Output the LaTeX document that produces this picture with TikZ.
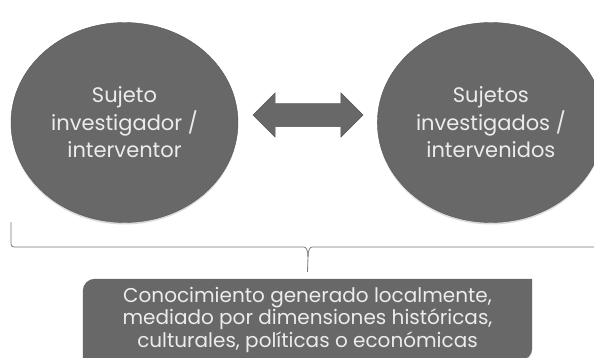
\documentclass[tikz,border=0pt]{standalone}
\usepackage{fontspec}
\setmainfont{Poppins}
\usetikzlibrary{positioning,shapes.geometric,shapes.arrows,shadows,backgrounds}
\definecolor{gris}{RGB}{104,104,104}
\definecolor{grisborde}{RGB}{86,86,86}
\definecolor{texto}{RGB}{236,236,236}
\definecolor{grisllave}{RGB}{120,120,120}
\tikzset{
	circulo/.style={ellipse, fill=gris, draw=grisborde, minimum width=227pt, minimum height=200pt, inner sep=0pt, text=texto, align=center, font=\fontsize{21}{27.5}\selectfont, drop shadow={shadow xshift=0pt, shadow yshift=-2pt, opacity=.3}},
	flecha/.style={double arrow, fill=gris, draw=grisborde, minimum width=44pt, minimum height=110pt, inner xsep=0pt, inner ysep=11.5pt, double arrow head extend=10.5pt, double arrow tip angle=90},
	caja/.style={minimum width=449pt, minimum height=81pt, inner sep=0pt, text=texto, align=center, font=\fontsize{20}{22.5}\selectfont},
	llave/.style={draw=grisllave, line width=.8pt}
}

\begin{document}
\begin{tikzpicture}[x=1pt,y=-1pt]
\useasboundingbox (0,0) rectangle (594,358);
\node[circulo] (sujeto) at (124.5,122.5) {Sujeto\\investigador /\\interventor};
\node[circulo, right=139pt of sujeto] (sujetos) {Sujetos\\investigados /\\intervenidos};
\node[flecha] (flecha) at (308,115) {};
%\node[caja] (conoc) [below=57pt of flecha] {...};
\node[caja] (conoc) at (307.5,319.5) {Conocimiento generado localmente,\\mediado por dimensiones históricas,\\culturales, políticas o económicas};
\begin{pgfonlayer}{background}
\fill[gris, drop shadow={shadow xshift=0pt, shadow yshift=-2pt, opacity=.3}] (conoc.south west) -- ([yshift=-12pt]conoc.north west) arc[start angle=180, end angle=90, radius=12pt] -- (conoc.north east) -- ([yshift=12pt]conoc.south east) arc[start angle=0, end angle=-90, radius=12pt] -- cycle;
\end{pgfonlayer}
\coordinate (llaveizq) at (11,222);
\coordinate (llaveder) at (604,222);
\coordinate (llavemedia) at (308,247);
\coordinate (punta) at ([yshift=7pt]conoc.north);
\draw[llave, rounded corners=3pt] (llaveizq) |- ([xshift=-7pt]llavemedia) [sharp corners] .. controls ([xshift=-2pt]llavemedia) and ([yshift=-3pt]llavemedia) .. ([yshift=-10pt]llavemedia) -- (punta);
\draw[llave, rounded corners=3pt] (llaveder) |- ([xshift=7pt]llavemedia) [sharp corners] .. controls ([xshift=2pt]llavemedia) and ([yshift=-3pt]llavemedia) .. ([yshift=-10pt]llavemedia);
\end{tikzpicture}
\end{document}
